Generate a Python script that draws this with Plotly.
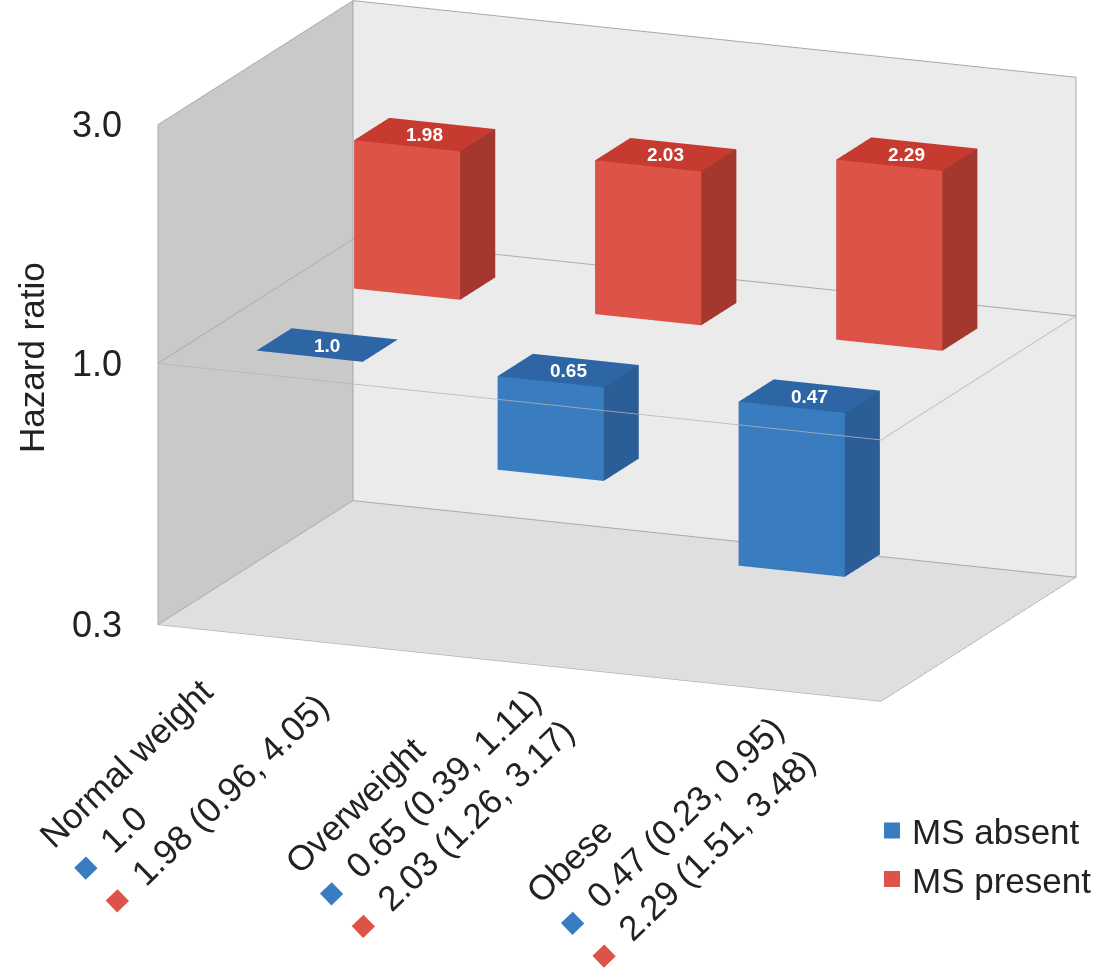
import math
import plotly.graph_objects as go

# Hazard ratios by weight category, with and without metabolic syndrome (MS)
categories = ["Normal weight", "Overweight", "Obese"]
hr_absent = [1.0, 0.65, 0.47]
hr_present = [1.98, 2.03, 2.29]
ci_absent = ["", "(0.39, 1.11)", "(0.23, 0.95)"]
ci_present = ["(0.96, 4.05)", "(1.26, 3.17)", "(1.51, 3.48)"]
bar_labels_absent = ["1.0", "0.65", "0.47"]
bar_labels_present = ["1.98", "2.03", "2.29"]
z_ticks = [0.3, 1.0, 3.0]
z_tick_text = ["0.3", "1.0", "3.0"]
series_names = ["MS absent", "MS present"]

BLUE = {"front": "#3a7cc0", "top": "#2d65a5", "side": "#2b5d97"}
RED = {"front": "#dd5347", "top": "#c63a30", "side": "#a4382f"}
FONT = "Liberation Sans, Arial, sans-serif"
TEXT = "#222222"

HALF_W = 0.22   # half bar width along the category axis
HALF_D = 0.18   # half bar depth along the series axis
ROW_ABSENT, ROW_PRESENT = 0.0, 1.0


def bars_mesh(values, row, colors, name):
    """One Mesh3d holding a box per category, rising/falling from HR = 1 on a log scale."""
    xs, ys, zs, ii, jj, kk, fc = [], [], [], [], [], [], []
    for c, v in enumerate(values):
        z_a, z_b = 0.0, math.log10(v)
        zlo, zhi = min(z_a, z_b), max(z_a, z_b)
        x0, x1 = c - HALF_W, c + HALF_W
        y0, y1 = row - HALF_D, row + HALF_D
        base = len(xs)
        for (x, y, z) in [(x0, y0, zlo), (x1, y0, zlo), (x1, y1, zlo), (x0, y1, zlo),
                          (x0, y0, zhi), (x1, y0, zhi), (x1, y1, zhi), (x0, y1, zhi)]:
            xs.append(x); ys.append(y); zs.append(z)
        faces = [
            ((0, 1, 2), "side"), ((0, 2, 3), "side"),      # bottom
            ((4, 5, 6), "top"), ((4, 6, 7), "top"),        # top
            ((0, 1, 5), "front"), ((0, 5, 4), "front"),    # front
            ((3, 2, 6), "side"), ((3, 6, 7), "side"),      # back
            ((0, 3, 7), "side"), ((0, 7, 4), "side"),      # left
            ((1, 2, 6), "side"), ((1, 6, 5), "side"),      # right
        ]
        for (a, b, d), role in faces:
            ii.append(base + a); jj.append(base + b); kk.append(base + d)
            fc.append(colors[role])
    return go.Mesh3d(
        x=xs, y=ys, z=zs, i=ii, j=jj, k=kk, facecolor=fc, flatshading=True,
        lighting=dict(ambient=1.0, diffuse=0.0, specular=0.0, roughness=1.0, fresnel=0.0),
        hoverinfo="skip", showlegend=False, name=name,
    )


x_lo, x_hi = -0.5, len(categories) - 0.5
y_lo, y_hi = -0.5, 1.5
z_lo, z_hi = math.log10(z_ticks[0]), math.log10(z_ticks[-1])

fig = go.Figure()
fig.add_trace(bars_mesh(hr_present, ROW_PRESENT, RED, series_names[1]))
fig.add_trace(bars_mesh(hr_absent, ROW_ABSENT, BLUE, series_names[0]))

# outline of the reference plane at HR = 1.0
fig.add_trace(go.Scatter3d(
    x=[x_lo, x_hi, x_hi, x_lo, x_lo], y=[y_lo, y_lo, y_hi, y_hi, y_lo], z=[0] * 5,
    mode="lines", line=dict(color="#b4b4b4", width=2), opacity=0.75,
    hoverinfo="skip", showlegend=False,
))

# legend entries
for nm, col in zip(series_names, [BLUE["front"], RED["front"]]):
    fig.add_trace(go.Scatter3d(
        x=[None], y=[None], z=[None], mode="markers", name=nm,
        marker=dict(symbol="square", size=18, color=col),
    ))

# value labels on the bar tops and hazard-ratio tick labels, anchored in scene coordinates
scene_notes = []
for row, vals, labs in [(ROW_PRESENT, hr_present, bar_labels_present),
                        (ROW_ABSENT, hr_absent, bar_labels_absent)]:
    for c, (v, lab) in enumerate(zip(vals, labs)):
        scene_notes.append(dict(
            x=c, y=row, z=max(0.0, math.log10(v)), text=f"<b>{lab}</b>", showarrow=False,
            font=dict(family=FONT, size=19, color="white"), xanchor="center", yanchor="middle",
        ))
for t, tt in zip(z_ticks, z_tick_text):
    scene_notes.append(dict(
        x=x_lo, y=y_lo, z=math.log10(t), text=tt, showarrow=False,
        font=dict(family=FONT, size=36, color=TEXT), xanchor="right", yanchor="middle",
        xshift=-34,
    ))

# category labels with the hazard ratios and confidence intervals
label_centers = [(0.1677, 0.2062), (0.3915, 0.1794), (0.6108, 0.1485)]
for c, cat in enumerate(categories):
    if ci_absent[c]:
        line_a = f"{bar_labels_absent[c]} {ci_absent[c]}"
    else:
        line_a = bar_labels_absent[c]
    line_p = f"{bar_labels_present[c]} {ci_present[c]}"
    txt = (f"{cat}<br>"
           f"<span style='color:{BLUE['front']};font-size:34px'>■</span>&nbsp; {line_a}<br>"
           f"<span style='color:{RED['front']};font-size:34px'>■</span>&nbsp; {line_p}")
    fx, fy = label_centers[c]
    fig.add_annotation(
        x=fx, y=fy, xref="paper", yref="paper", text=txt, showarrow=False,
        textangle=-44, align="left", xanchor="center", yanchor="middle",
        font=dict(family=FONT, size=35, color=TEXT),
    )

fig.add_annotation(
    x=0.0292, y=0.631, xref="paper", yref="paper", text="Hazard ratio",
    showarrow=False, textangle=-90, xanchor="center", yanchor="middle",
    font=dict(family=FONT, size=35, color=TEXT),
)

axis_common = dict(showspikes=False, zeroline=False, title=dict(text=""), showline=False,
                   showticklabels=False, ticks="")
eye_dir = (0.3648, -0.8941, 0.2597)
eye_dist = 2.0
box_scale = 2.225
fig.update_layout(
    width=1097, height=970,
    margin=dict(l=0, r=0, t=0, b=0),
    paper_bgcolor="white",
    font=dict(family=FONT, color=TEXT),
    showlegend=True,
    legend=dict(x=1.0, y=0.174, xanchor="right", yanchor="top",
                font=dict(family=FONT, size=35, color=TEXT),
                bgcolor="rgba(0,0,0,0)", itemwidth=30),
    scene=dict(
        domain=dict(x=[0.125, 1.0], y=[0.2763, 1.0]),
        aspectmode="manual",
        aspectratio=dict(x=1.0 * box_scale, y=0.661 * box_scale, z=0.663 * box_scale),
        camera=dict(eye=dict(x=eye_dir[0] * eye_dist, y=eye_dir[1] * eye_dist,
                             z=eye_dir[2] * eye_dist),
                    center=dict(x=0, y=0, z=0), up=dict(x=0, y=0, z=1),
                    projection=dict(type="orthographic")),
        xaxis=dict(range=[x_lo, x_hi], tickvals=[x_lo, x_hi],
                   showgrid=True, gridcolor="#a8a8a8", showbackground=True,
                   backgroundcolor="#c9c9c9", **axis_common),
        yaxis=dict(range=[y_lo, y_hi], tickvals=[y_lo, y_hi],
                   showgrid=True, gridcolor="#a8a8a8", showbackground=True,
                   backgroundcolor="#ebebeb", **axis_common),
        zaxis=dict(range=[z_lo, z_hi], tickvals=[math.log10(t) for t in z_ticks],
                   showgrid=True, gridcolor="#a8a8a8", showbackground=True,
                   backgroundcolor="#dfdfdf", **axis_common),
        annotations=scene_notes,
    ),
)

fig.write_html("out.html")
